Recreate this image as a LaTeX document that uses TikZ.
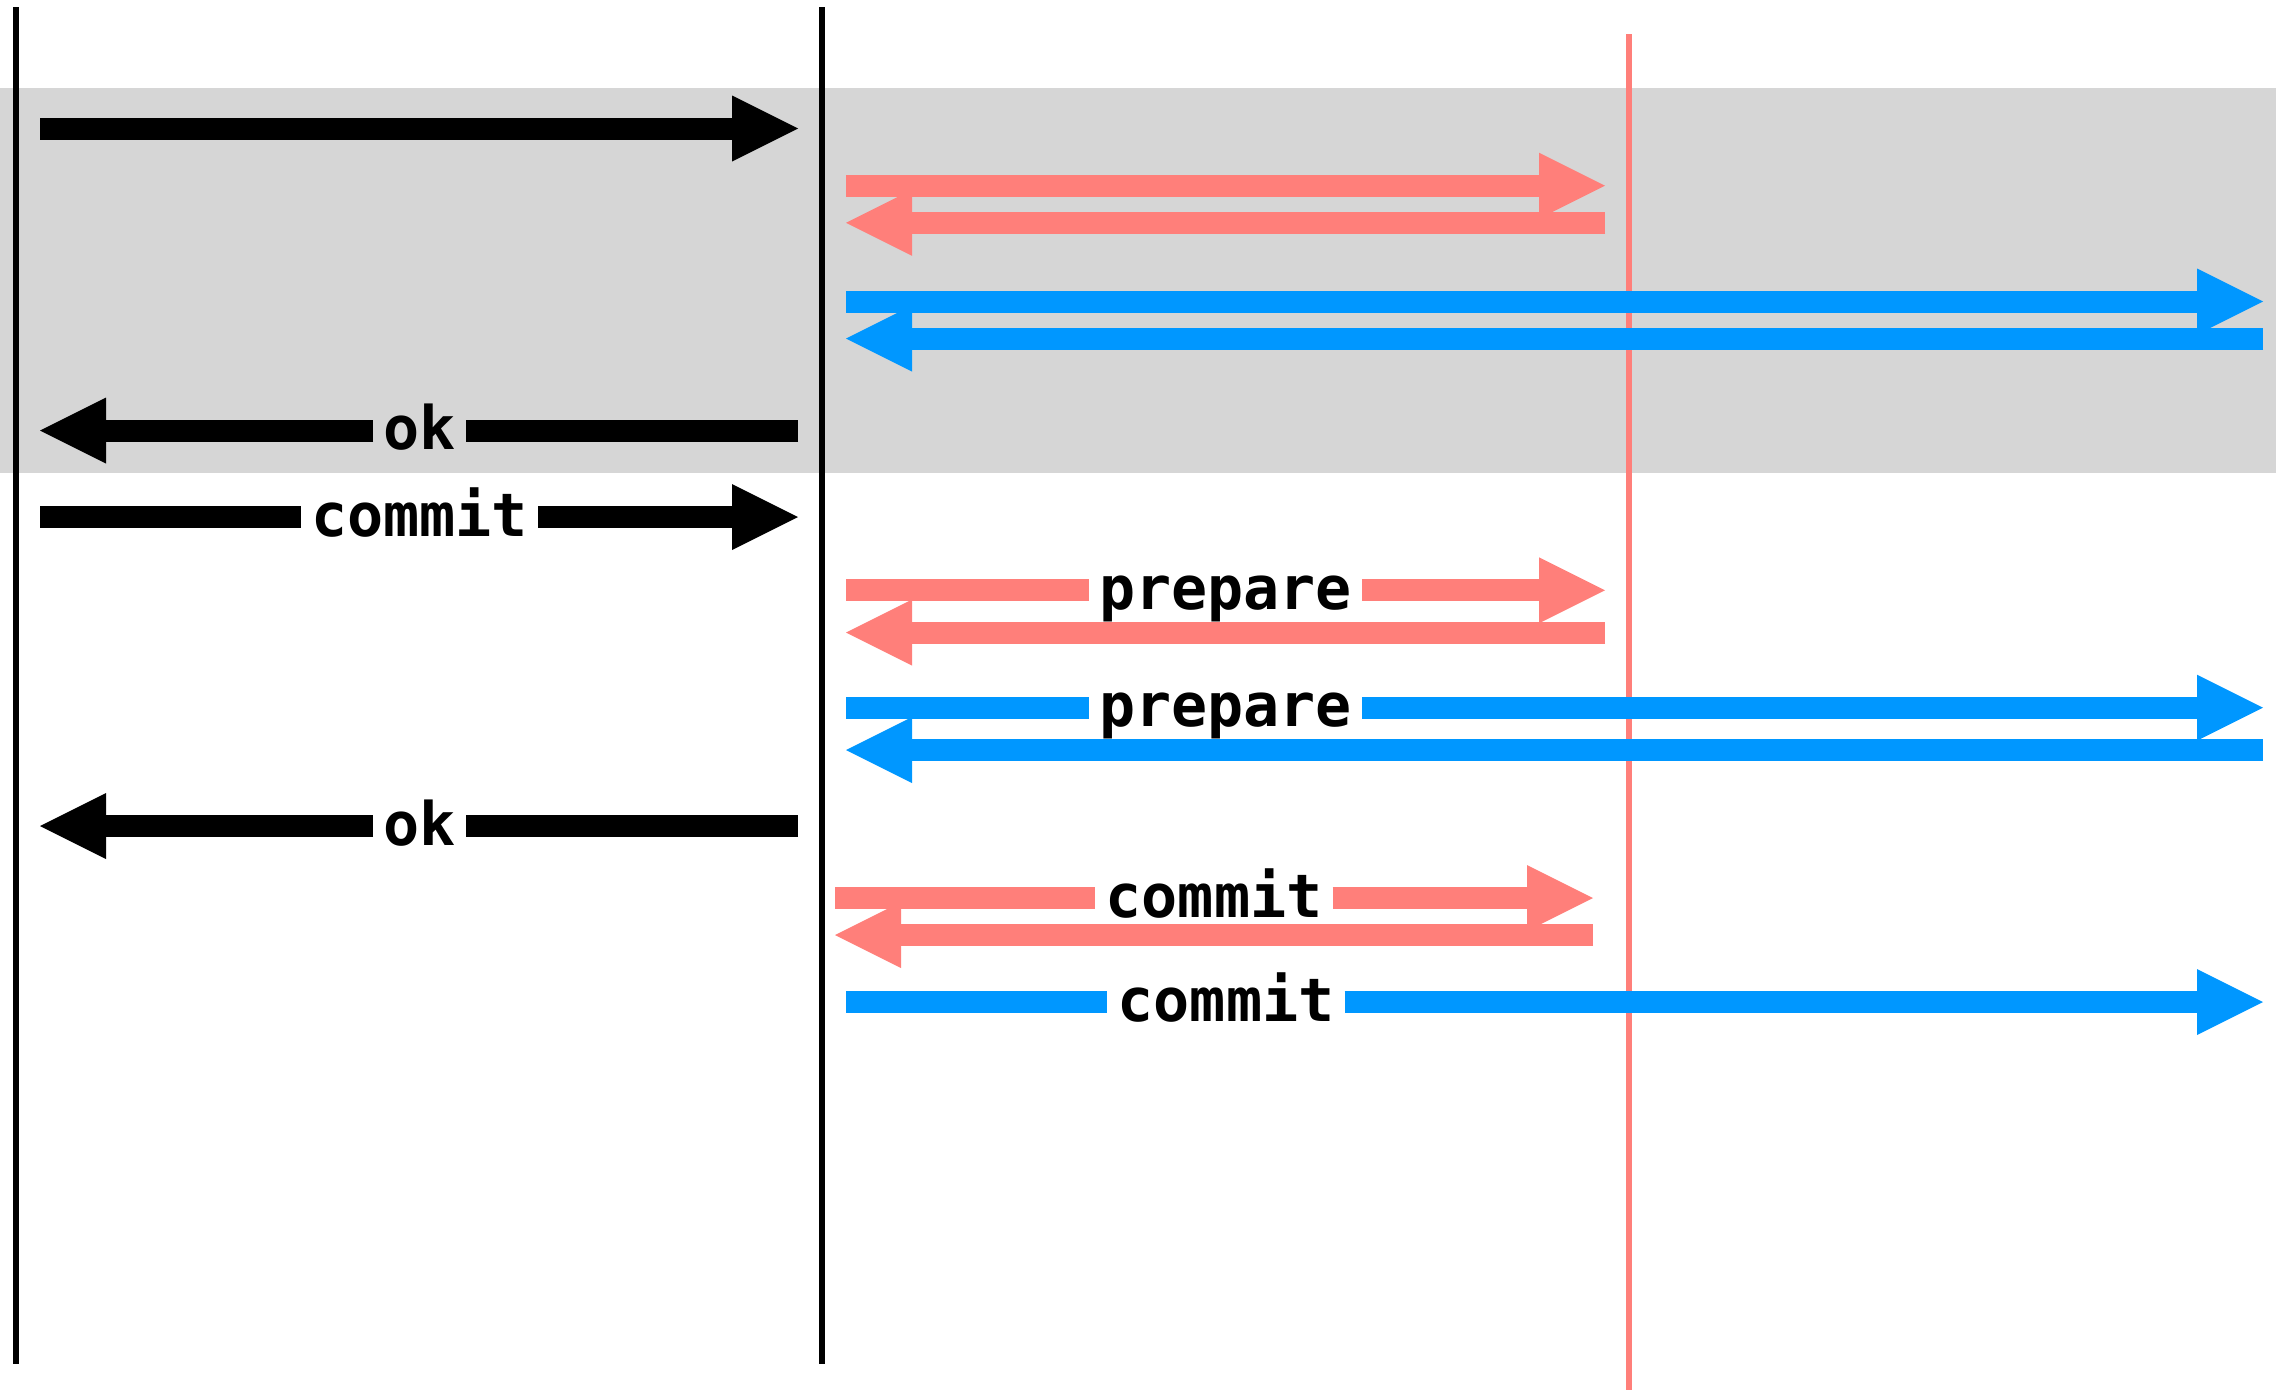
\documentclass[tikz,border=0pt]{standalone}
\usepackage{fontspec}
\usetikzlibrary{arrows.meta,calc}
\newfontfamily\lblfont{DejaVu Sans Mono}
\definecolor{msgred}{RGB}{255,127,122}
\definecolor{msgblue}{RGB}{0,151,255}
\definecolor{bandgray}{RGB}{214,214,214}
\tikzset{
  lifeline/.style={line width=6pt},
  msg/.style={line width=22pt},
  msgtip/.style={msg, -{Triangle[length=66pt,width=66pt,line width=0pt]}},
  lbl/.style={font=\lblfont\bfseries\fontsize{60pt}{60pt}\selectfont,
              inner xsep=10pt, inner ysep=0pt, anchor=base},
}
\begin{document}
\begin{tikzpicture}[x=1pt,y=-1pt]
  \useasboundingbox (0,0) rectangle (2276,1390);
  % shaded phase band
  \fill[bandgray] (0,88) rectangle (2276,473);

  % lifelines
  \coordinate (cliTop) at (16,7);    \coordinate (cliBot) at (16,1364);
  \coordinate (coTop)  at (822,7);   \coordinate (coBot)  at (822,1364);
  \coordinate (redTop) at (1629,34); \coordinate (redBot) at (1629,1390);
  \draw[lifeline] (cliTop) -- (cliBot);
  \draw[lifeline] (coTop) -- (coBot);
  \draw[lifeline, msgred] (redTop) -- (redBot);

  % message end points
  \coordinate (m1a) at (40,128.5);   \coordinate (m1b) at (798,128.5);
  \coordinate (m2a) at (846,185.7);  \coordinate (m2b) at (1605,185.7);
  \coordinate (m3a) at (1605,222.8); \coordinate (m3b) at (846,222.8);
  \coordinate (m4a) at (846,301.5);  \coordinate (m4b) at (2263,301.5);
  \coordinate (m5a) at (2263,338.5); \coordinate (m5b) at (846,338.5);
  \coordinate (m6a) at (798,430.5);  \coordinate (m6b) at (40,430.5);
  \coordinate (m7a) at (40,517);     \coordinate (m7b) at (798,517);
  \coordinate (m8a) at (846,590.3);  \coordinate (m8b) at (1605,590.3);
  \coordinate (m9a) at (1605,632.5); \coordinate (m9b) at (846,632.5);
  \coordinate (m10a) at (846,707.7); \coordinate (m10b) at (2263,707.7);
  \coordinate (m11a) at (2263,750);  \coordinate (m11b) at (846,750);
  \coordinate (m12a) at (798,826);   \coordinate (m12b) at (40,826);
  \coordinate (m13a) at (835,898);   \coordinate (m13b) at (1593,898);
  \coordinate (m14a) at (1593,935);  \coordinate (m14b) at (835,935);
  \coordinate (m15a) at (846,1002);  \coordinate (m15b) at (2263,1002);

  % labels
  \node[lbl] (okA)      at (419.5,449.5)  {ok};
  \node[lbl] (commitA)  at (419.5,536)    {commit};
  \node[lbl] (prepR)    at (1225.5,609.3) {prepare};
  \node[lbl] (prepB)    at (1225.5,726.7) {prepare};
  \node[lbl] (okB)      at (419.5,845)    {ok};
  \node[lbl] (commitR)  at (1214,917)     {commit};
  \node[lbl] (commitB)  at (1226,1021)    {commit};

  % unlabelled messages
  \draw[msgtip] (m1a) -- (m1b);
  \draw[msgtip, msgred] (m2a) -- (m2b);
  \draw[msgtip, msgred] (m3a) -- (m3b);
  \draw[msgtip, msgblue] (m4a) -- (m4b);
  \draw[msgtip, msgblue] (m5a) -- (m5b);
  \draw[msgtip, msgred] (m9a) -- (m9b);
  \draw[msgtip, msgblue] (m11a) -- (m11b);
  \draw[msgtip, msgred] (m14a) -- (m14b);

  % labelled messages, split around their label
  \draw[msg] (m6a) -- (m6a -| okA.east);
  \draw[msgtip] (m6a -| okA.west) -- (m6b);
  \draw[msg] (m7a) -- (m7a -| commitA.west);
  \draw[msgtip] (m7a -| commitA.east) -- (m7b);
  \draw[msg, msgred] (m8a) -- (m8a -| prepR.west);
  \draw[msgtip, msgred] (m8a -| prepR.east) -- (m8b);
  \draw[msg, msgblue] (m10a) -- (m10a -| prepB.west);
  \draw[msgtip, msgblue] (m10a -| prepB.east) -- (m10b);
  \draw[msg] (m12a) -- (m12a -| okB.east);
  \draw[msgtip] (m12a -| okB.west) -- (m12b);
  \draw[msg, msgred] (m13a) -- (m13a -| commitR.west);
  \draw[msgtip, msgred] (m13a -| commitR.east) -- (m13b);
  \draw[msg, msgblue] (m15a) -- (m15a -| commitB.west);
  \draw[msgtip, msgblue] (m15a -| commitB.east) -- (m15b);
\end{tikzpicture}
\end{document}
